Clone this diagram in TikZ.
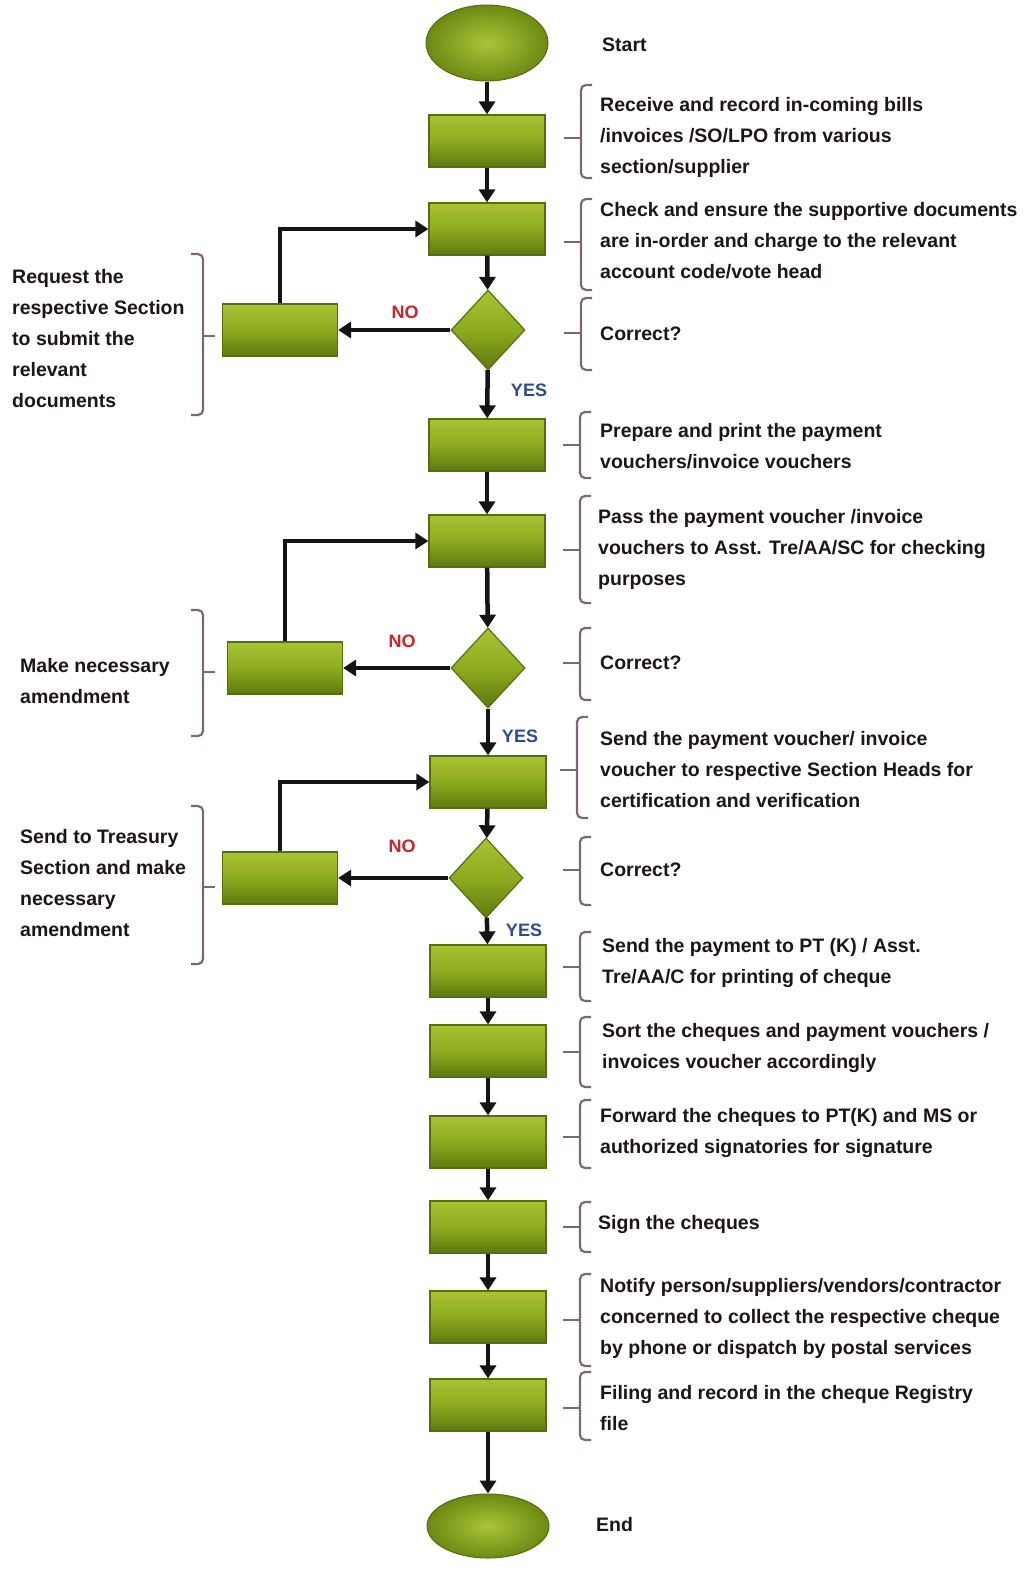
\documentclass[tikz,border=0pt]{standalone}
\usepackage{fontspec}
\setmainfont{Liberation Sans}
\usetikzlibrary{shapes.geometric,arrows.meta}
\definecolor{txt}{HTML}{1E141C}
\definecolor{brk}{HTML}{7A6878}
\definecolor{gtop}{HTML}{A8C434}
\definecolor{gmid}{HTML}{8DAB1F}
\definecolor{gbot}{HTML}{5E7A0E}
\definecolor{gedge}{HTML}{5A6C12}
\definecolor{glight}{HTML}{A9C53A}
\definecolor{gdark}{HTML}{6C8A12}
\definecolor{nored}{HTML}{C8252C}
\definecolor{yesblue}{HTML}{2C4C8C}

% bracket with a tick, opening to the right (text on the right)
\newcommand\RBr[4]{%
  \draw[brk, line width=2.2pt, rounded corners=5pt] (#1+11,#2) -- (#1,#2) -- (#1,#3) -- (#1+11,#3);
  \draw[brk, line width=2.2pt] (#1-17,#4) -- (#1,#4);}
% bracket with a tick, opening to the left (text on the left)
\newcommand\LBr[4]{%
  \draw[brk, line width=2.2pt, rounded corners=5pt] (#1-12,#2) -- (#1,#2) -- (#1,#3) -- (#1-12,#3);
  \draw[brk, line width=2.2pt] (#1,#4) -- (#1+12,#4);}

\begin{document}
\begin{tikzpicture}[x=1pt,y=-1pt,
  stepbox/.style={rectangle, minimum width=116pt, minimum height=52pt, inner sep=0pt,
    top color=gtop, bottom color=gbot, middle color=gmid, draw=gedge, line width=1.2pt},
  term/.style={ellipse, minimum width=122pt, minimum height=76pt, inner sep=0pt,
    inner color=glight, outer color=gdark, draw=gedge, line width=1pt},
  decide/.style={diamond, minimum width=74pt, minimum height=80pt, inner sep=0pt,
    top color=gtop, bottom color=gbot, middle color=gmid, draw=gedge, line width=1.2pt},
  note/.style={anchor=west, align=left, inner sep=0pt, text=txt,
    font=\fontsize{19.5}{31}\selectfont\bfseries},
  yes/.style={inner sep=0pt, text=yesblue, font=\fontsize{18}{20}\selectfont\bfseries},
  no/.style={inner sep=0pt, text=nored, font=\fontsize{18}{20}\selectfont\bfseries},
  arr/.style={draw=black!92, line width=4.5pt, -{Triangle[length=13pt,width=16pt]}}]

\useasboundingbox[fill=white] (0,0) rectangle (1031,1571);

% main column
\node[term]    (start) at (487,43)   {};
\node[stepbox] (b1)    at (487,141)  {};
\node[stepbox] (b2)    at (487,229)  {};
\node[decide]  (d1)    at (488,330)  {};
\node[stepbox] (b3)    at (487,445)  {};
\node[stepbox] (b4)    at (487,541)  {};
\node[decide]  (d2)    at (488,668)  {};
\node[stepbox] (b5)    at (488,782)  {};
\node[decide]  (d3)    at (486,878)  {};
\node[stepbox] (b6)    at (488,971)  {};
\node[stepbox] (b7)    at (488,1051) {};
\node[stepbox] (b8)    at (488,1142) {};
\node[stepbox] (b9)    at (488,1227) {};
\node[stepbox] (b10)   at (488,1317) {};
\node[stepbox] (b11)   at (488,1405) {};
\node[term, minimum height=64pt] (end) at (488,1526) {};

% side boxes
\node[stepbox, minimum width=115pt] (l1) at (280,330) {};
\node[stepbox, minimum width=115pt] (l2) at (285,668) {};
\node[stepbox, minimum width=115pt] (l3) at (280,878) {};

% main flow
\draw[arr] (start) -- (b1);
\draw[arr] (b1) -- (b2);
\draw[arr] (b2) -- (d1);
\draw[arr] (d1) -- (b3);
\draw[arr] (b3) -- (b4);
\draw[arr] (b4) -- (d2);
\draw[arr] (d2) -- (b5);
\draw[arr] (b5) -- (d3);
\draw[arr] (d3) -- (b6);
\draw[arr] (b6) -- (b7);
\draw[arr] (b7) -- (b8);
\draw[arr] (b8) -- (b9);
\draw[arr] (b9) -- (b10);
\draw[arr] (b10) -- (b11);
\draw[arr] (b11) -- (end);

% rejections and loops back
\draw[arr] (d1.west) -- (l1.east);
\draw[arr] (l1.north) |- (b2.west);
\draw[arr] (d2.west) -- (l2.east);
\draw[arr] (l2.north) |- (b4.west);
\draw[arr] (d3.west) -- (l3.east);
\draw[arr] (l3.north) |- (b5.west);

\node[no]  (no1)  at (405,312) {NO};
\node[no]  (no2)  at (402,641) {NO};
\node[no]  (no3)  at (402,846) {NO};
\node[yes] (yes1) at (529,390) {YES};
\node[yes] (yes2) at (520,736) {YES};
\node[yes] (yes3) at (524,930) {YES};

% descriptions on the right
\node[note] (t0)  at (602,45)   {Start};
\node[note] (t1)  at (600,137)  {Receive and record in-coming bills\\/invoices /SO/LPO from various\\section/supplier};
\node[note] (t2)  at (600,241)  {Check and ensure the supportive documents\\are in-order and charge to the relevant\\account code/vote head};
\node[note] (t3)  at (600,334)  {Correct?};
\node[note] (t4)  at (600,446)  {Prepare and print the payment\\vouchers/invoice vouchers};
\node[note] (t5)  at (598,549)  {Pass the payment voucher /invoice\\vouchers to Asst. Tre/AA/SC for checking\\purposes};
\node[note] (t6)  at (600,663)  {Correct?};
\node[note] (t7)  at (600,770)  {Send the payment voucher/ invoice\\voucher to respective Section Heads for\\certification and verification};
\node[note] (t8)  at (600,870)  {Correct?};
\node[note] (t9)  at (602,963)  {Send the payment to PT (K) / Asst.\\Tre/AA/C for printing of cheque};
\node[note] (t10) at (602,1048) {Sort the cheques and payment vouchers /\\invoices voucher accordingly};
\node[note] (t11) at (600,1133) {Forward the cheques to PT(K) and MS or\\authorized signatories for signature};
\node[note] (t12) at (598,1224) {Sign the cheques};
\node[note] (t13) at (600,1318) {Notify person/suppliers/vendors/contractor\\concerned to collect the respective cheque\\by phone or dispatch by postal services};
\node[note] (t14) at (600,1408) {Filing and record in the cheque Registry\\file};
\node[note] (t15) at (596,1525) {End};

% descriptions on the left
\node[note] (lt1) at (12,339) {Request the\\respective Section\\to submit the\\relevant\\documents};
\node[note] (lt2) at (20,681) {Make necessary\\amendment};
\node[note] (lt3) at (20,883) {Send to Treasury\\Section and make\\necessary\\amendment};

% brackets
\RBr{581}{85}{178}{138}
\RBr{581}{199}{290}{242}
\RBr{581}{298}{370}{333}
\RBr{580}{412}{478}{445}
\RBr{580}{496}{603}{550}
\RBr{580}{628}{700}{663}
\RBr{577}{717}{818}{770}
\RBr{580}{932}{1001}{967}
\RBr{580}{837}{905}{870}
\RBr{580}{1017}{1087}{1052}
\RBr{580}{1100}{1168}{1137}
\RBr{580}{1202}{1252}{1227}
\RBr{580}{1274}{1366}{1320}
\RBr{580}{1372}{1440}{1408}

\LBr{203}{254}{415}{336}
\LBr{203}{610}{736}{672}
\LBr{203}{806}{964}{887}
\end{tikzpicture}
\end{document}
